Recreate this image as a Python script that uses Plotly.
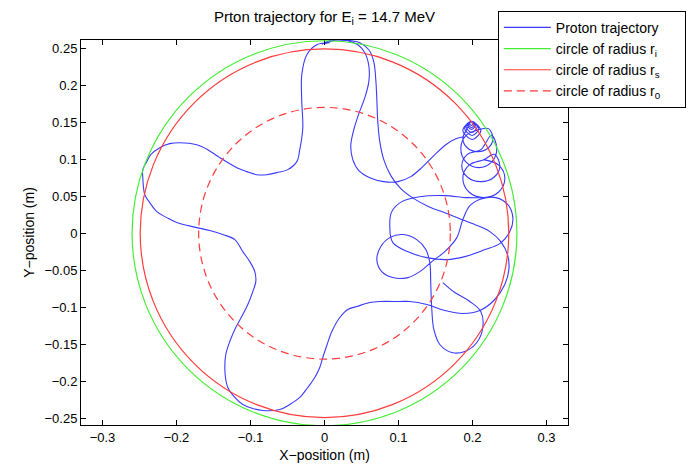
import plotly.graph_objects as go

# circle radii (m)
r_i = 0.260
r_s = 0.249
r_0 = 0.170

# ---- trajectory pieces (m) ----
# left flower: top lobe -> upper-left lobe -> bottom lobe -> right side -> back up to the top lobe
flower_x = [0.0072, -0.0104, -0.0239, -0.0307, -0.0307, -0.0293, -0.0334, -0.0374, -0.0496, -0.0645,
            -0.0780, -0.0915, -0.1050, -0.1185, -0.1415, -0.1577, -0.1726, -0.1955, -0.2091, -0.2226,
            -0.2347, -0.2401, -0.2455, -0.2455, -0.2428, -0.2361, -0.2266, -0.2131, -0.1996, -0.1726,
            -0.1550, -0.1374, -0.1212, -0.1104, -0.1009, -0.0942, -0.0928, -0.0969, -0.1036, -0.1104,
            -0.1199, -0.1280, -0.1334, -0.1347, -0.1334, -0.1307, -0.1212, -0.1104, -0.0969, -0.0834,
            -0.0604, -0.0469, -0.0334, -0.0226, -0.0131, -0.0064, -0.0023, 0.0031, 0.0099, 0.0207,
            0.0315, 0.0436, 0.0612, 0.0747,
            0.1018, 0.1153, 0.1382, 0.1626, 0.1869, 0.2099, 0.2301, 0.2436, 0.2491, 0.2477,
            0.2382, 0.2234, 0.2031, 0.1828, 0.1626, 0.1409, 0.1207, 0.1031, 0.0896, 0.0801,
            0.0747, 0.0720, 0.0707, 0.0693, 0.0666, 0.0599, 0.0477, 0.0301, 0.0112, -0.0036]
flower_y = [0.2573, 0.2546, 0.2411, 0.2141, 0.1777, 0.1426, 0.1129, 0.0967, 0.0859, 0.0819,
            0.0791, 0.0791, 0.0832, 0.0886, 0.1021, 0.1129, 0.1196, 0.1223, 0.1210, 0.1156,
            0.1062, 0.0967, 0.0859, 0.0751, 0.0521, 0.0414, 0.0292, 0.0211, 0.0144, 0.0076,
            0.0036, -0.0018, -0.0086, -0.0248, -0.0383, -0.0518, -0.0653, -0.0788, -0.0963, -0.1098,
            -0.1274, -0.1463, -0.1638, -0.1813, -0.1975, -0.2083, -0.2218, -0.2313, -0.2367, -0.2394,
            -0.2380, -0.2313, -0.2218, -0.2083, -0.1948, -0.1813, -0.1678, -0.1516, -0.1327, -0.1138,
            -0.1030, -0.0990, -0.0936, -0.0922,
            -0.0922, -0.0922, -0.0963, -0.1044, -0.1084, -0.1044, -0.0895, -0.0693, -0.0491, -0.0302,
            -0.0113, 0.0022, 0.0117, 0.0197, 0.0278, 0.0359, 0.0467, 0.0602, 0.0778, 0.0994,
            0.1237, 0.1507, 0.1804, 0.2074, 0.2316, 0.2478, 0.2573, 0.2607, 0.2613, 0.2553]

# strand from the top lobe down into the spiral region
strand_x = [0.0004, 0.0139, 0.0315, 0.0450, 0.0545, 0.0599, 0.0599, 0.0545, 0.0464, 0.0396,
            0.0355, 0.0382, 0.0464, 0.0612, 0.0801, 0.0991, 0.1166, 0.1328, 0.1491, 0.1639,
            0.1774, 0.1882]
strand_y = [0.2559, 0.2607, 0.2600, 0.2546, 0.2438, 0.2262, 0.2047, 0.1831, 0.1615, 0.1399,
            0.1182, 0.0994, 0.0846, 0.0751, 0.0697, 0.0697, 0.0765, 0.0900, 0.1062, 0.1196,
            0.1277, 0.1304]

# column of loops hanging from (0.199, 0.151): tiny loops, then four larger ones
spiral_x = [0.1986,
            0.1959, 0.1986, 0.2013, 0.1986,
            0.1945, 0.1986, 0.2027, 0.1986,
            0.1932, 0.1986, 0.2040, 0.1986,
            0.1912, 0.1990, 0.2064, 0.1986,
            0.1893, 0.1995, 0.2085, 0.1986,
            0.1869, 0.2000, 0.2112, 0.1986,
            0.1928, 0.1869, 0.1928, 0.2072, 0.2216, 0.2275, 0.2216,
            0.2085, 0.1913, 0.1842, 0.1913, 0.2085, 0.2257, 0.2328, 0.2257,
            0.2112, 0.1930, 0.1855, 0.1930, 0.2112, 0.2294, 0.2369, 0.2294,
            0.2153, 0.1952, 0.1869, 0.1952, 0.2153, 0.2354, 0.2437, 0.2354, 0.2153]
spiral_y = [0.1511,
            0.1484, 0.1457, 0.1484, 0.1511,
            0.1470, 0.1429, 0.1470, 0.1511,
            0.1457, 0.1403, 0.1457, 0.1511,
            0.1437, 0.1363, 0.1437, 0.1511,
            0.1416, 0.1321, 0.1416, 0.1511,
            0.1389, 0.1267, 0.1389, 0.1511,
            0.1413, 0.1284, 0.1155, 0.1102, 0.1155, 0.1284, 0.1413,
            0.1398, 0.1323, 0.1142, 0.0961, 0.0886, 0.0961, 0.1142, 0.1323,
            0.1129, 0.1066, 0.0913, 0.0760, 0.0697, 0.0760, 0.0913, 0.1066,
            0.0994, 0.0919, 0.0738, 0.0557, 0.0482, 0.0557, 0.0738, 0.0919, 0.0994]

# loops of the right-hand region below the column
loops_x = [0.2153, 0.1923, 0.1626, 0.1288, 0.1045, 0.0909, 0.0882, 0.0923, 0.1153, 0.1382,
           0.1653, 0.1896, 0.2166, 0.2368, 0.2504, 0.2545, 0.2477, 0.2315, 0.2126, 0.1964,
           0.1869, 0.1788, 0.1626, 0.1450, 0.1288, 0.1126, 0.0923, 0.0774, 0.0707, 0.0761,
           0.0882, 0.1058, 0.1247, 0.1369, 0.1423, 0.1436, 0.1450, 0.1477, 0.1558, 0.1720,
           0.1896, 0.2058, 0.2139, 0.2112, 0.1964, 0.1761, 0.1599]
loops_y = [0.0481, 0.0481, 0.0508, 0.0494, 0.0427, 0.0292, 0.0090, -0.0126, -0.0261, -0.0329,
           -0.0356, -0.0316, -0.0221, -0.0140, 0.0022, 0.0211, 0.0386, 0.0481, 0.0467, 0.0373,
           0.0184, -0.0059, -0.0248, -0.0383, -0.0518, -0.0599, -0.0599, -0.0518, -0.0356, -0.0180,
           -0.0059, -0.0018, -0.0086, -0.0221, -0.0396, -0.0693, -0.1030, -0.1300, -0.1503, -0.1611,
           -0.1597, -0.1476, -0.1273, -0.1057, -0.0922, -0.0801, -0.0666]

traj_x = flower_x + [None] + strand_x + [None] + spiral_x + [None] + loops_x
traj_y = flower_y + [None] + strand_y + [None] + spiral_y + [None] + loops_y

x_ticks = [-0.3, -0.2, -0.1, 0, 0.1, 0.2, 0.3]
y_ticks = [-0.25, -0.2, -0.15, -0.1, -0.05, 0, 0.05, 0.1, 0.15, 0.2, 0.25]

BLUE = "#3a3aff"
GREEN = "#44ee33"
RED = "#ff3b3b"
DASH = "8px,5px"
NBSP = "\u00a0"

fig = go.Figure()
fig.add_trace(go.Scatter(x=traj_x, y=traj_y, mode="lines", connectgaps=False,
                         line=dict(color=BLUE, width=1.1, shape="spline", smoothing=1.0),
                         name="Proton trajectory"))
for name, col, dash in [("circle of radius r<sub>i</sub>", GREEN, "solid"),
                        ("circle of radius r<sub>s</sub>", RED, "solid"),
                        ("circle of radius r<sub>0</sub>" + NBSP * 5, RED, DASH)]:
    fig.add_trace(go.Scatter(x=[None], y=[None], mode="lines", name=name,
                             line=dict(color=col, width=1.2, dash=dash)))

for r, col, dash in [(r_i, GREEN, "solid"), (r_s, RED, "solid"), (r_0, RED, DASH)]:
    fig.add_shape(type="circle", xref="x", yref="y", x0=-r, x1=r, y0=-r, y1=r,
                  line=dict(color=col, width=1.2, dash=dash))

axis_common = dict(showline=True, linecolor="black", linewidth=1, mirror="ticks", ticks="inside",
                   ticklen=5, tickcolor="black", showgrid=False, zeroline=False,
                   tickfont=dict(size=13))
fig.update_xaxes(range=[-0.329, 0.329], tickvals=x_ticks,
                 title=dict(text="X\u2212position (m)", standoff=6, font=dict(size=14)), **axis_common)
fig.update_yaxes(range=[-0.259, 0.261], tickvals=y_ticks,
                 title=dict(text="Y\u2212position (m)", standoff=6, font=dict(size=14)), **axis_common)

fig.update_layout(
    width=695, height=476,
    margin=dict(l=81, r=127, t=40, b=51, autoexpand=False),
    paper_bgcolor="white", plot_bgcolor="white",
    font=dict(family="Liberation Sans, Arial, sans-serif", size=13, color="black"),
    title=dict(text="Prton trajectory for E<sub>i</sub> = 14.7 MeV", x=0.5, xref="paper", xanchor="center",
               y=1 - 17 / 476, yref="container", yanchor="middle", font=dict(size=15)),
    legend=dict(x=0.856, y=1.076, xanchor="left", yanchor="top", bordercolor="black", borderwidth=1,
                bgcolor="white", itemwidth=47, font=dict(size=14), tracegroupgap=0),
)

fig.write_html("out.html")
